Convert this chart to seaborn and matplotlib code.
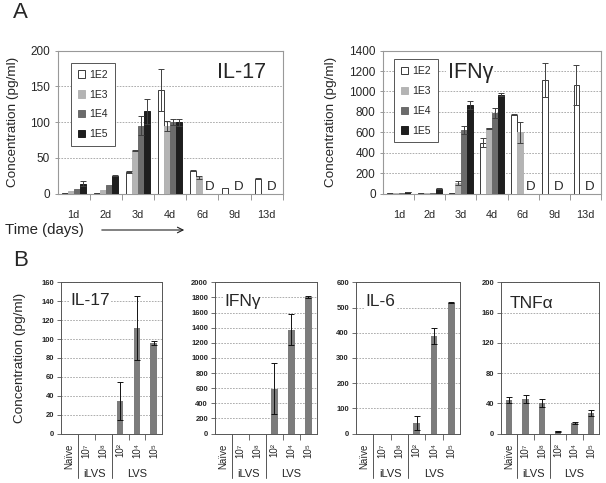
import numpy as np
import pandas as pd
import matplotlib.pyplot as plt
import matplotlib.transforms as mtransforms
from matplotlib.patches import Patch
import seaborn as sns

nan = np.nan

# ---- panel A: time course ----
DAYS = ["1d", "2d", "3d", "4d", "6d", "9d", "13d"]
DOSES = ["1E2", "1E3", "1E4", "1E5"]
DOSE_COLORS = ["white", "#b4b4b4", "#6b6b6b", "#1e1e1e"]

IL17_1E2 = [1, 1, 30, 145, 32, 8, 21]
IL17_1E3 = [4, 5, 60, 95, 23, nan, nan]
IL17_1E4 = [7, 12, 95, 100, nan, nan, nan]
IL17_1E5 = [14, 25, 115, 100, nan, nan, nan]
IL17_1E2_ERR = [0, 0, 1, 29, 1, 0, 1]
IL17_1E3_ERR = [0, 0, 1, 7, 2, nan, nan]
IL17_1E4_ERR = [0, 0, 13, 4, nan, nan, nan]
IL17_1E5_ERR = [3, 1, 17, 5, nan, nan, nan]

IFNG_1E2 = [3, 3, 5, 500, 770, 1110, 1065]
IFNG_1E3 = [4, 5, 100, 640, 600, nan, nan]
IFNG_1E4 = [6, 8, 620, 790, nan, nan, nan]
IFNG_1E5 = [15, 45, 870, 970, nan, nan, nan]
IFNG_1E2_ERR = [0, 0, 0, 42, 5, 165, 195]
IFNG_1E3_ERR = [0, 0, 20, 5, 100, nan, nan]
IFNG_1E4_ERR = [0, 0, 40, 45, nan, nan, nan]
IFNG_1E5_ERR = [3, 5, 40, 15, nan, nan, nan]

# ---- panel B: dose groups ----
GROUPS = ["Naïve", "10⁷", "10⁸", "10²", "10⁴", "10⁵"]
IL17_B = [0, 0, 0, 34, 112, 96]
IL17_B_ERR = [0, 0, 0, 20, 34, 2]
IFNG_B = [0, 0, 0, 590, 1370, 1805]
IFNG_B_ERR = [0, 0, 0, 337, 205, 10]
IL6_B = [0, 0, 0, 42, 388, 518]
IL6_B_ERR = [0, 0, 0, 28, 31, 2]
TNFA_B = [44, 46, 40, 3, 14, 27]
TNFA_B_ERR = [4, 5, 5, 0.5, 1, 4]

sns.set_style("ticks")
plt.rcParams['font.family'] = ['Liberation Sans', 'DejaVu Sans']

W, H = 606, 483
fig = plt.figure(figsize=(W / 100, H / 100), dpi=100)


def px_axes(x0, y0, x1, y1):
    return fig.add_axes([x0 / W, 1 - y1 / H, (x1 - x0) / W, (y1 - y0) / H])


def time_panel(ax, series, errs, ymax, ystep, title, title_x, leg_xy, lpad):
    rows = []
    for dose, vals, ee in zip(DOSES, series, errs):
        for d, v, e in zip(DAYS, vals, ee):
            rows.append({"day": d, "dose": dose, "val": v, "err": e})
    df = pd.DataFrame(rows)
    width = 0.75
    sns.barplot(df.dropna(subset=["val"]), x="day", y="val", hue="dose",
                order=DAYS, hue_order=DOSES, palette=DOSE_COLORS,
                width=width, errorbar=None, legend=False, ax=ax, zorder=3,
                linewidth=0.7)
    bar_sets = list(ax.containers)
    for k, cont in enumerate(bar_sets):
        sub = df[(df.dose == DOSES[k]) & df.val.notna()]
        for bar, (_, r) in zip(cont, sub.iterrows()):
            bar.set_edgecolor("#3a3a3a" if k == 0 else DOSE_COLORS[k])
            if r.err > 0:
                cx = bar.get_x() + bar.get_width() / 2
                ax.errorbar(cx, r.val, yerr=r.err, color="#404040", lw=0.7,
                            capsize=2, capthick=0.7, zorder=4)
    # "D" where later doses are missing
    for i, d in enumerate(DAYS):
        miss = [k for k in range(4) if np.isnan(df[(df.day == d) & (df.dose == DOSES[k])].val.iloc[0])]
        if miss:
            xs = [i - width / 2 + width / 4 * (k + 0.5) for k in miss]
            ax.text(np.mean(xs) + 0.05, 0, "D", ha="center", va="bottom",
                    fontsize=9.5, zorder=5)
    ax.set_ylim(0, ymax)
    ax.set_xlim(-0.5, len(DAYS) - 0.5)
    ax.set_yticks(np.arange(0, ymax + 1, ystep))
    ax.grid(axis="y", color="#a0a0a0", lw=0.6, ls=(0, (2, 1.5)), zorder=0)
    ax.set_axisbelow(True)
    ax.set_xlabel("")
    ax.set_ylabel("Concentration (pg/ml)", fontsize=9.7, labelpad=lpad)
    ax.tick_params(axis="y", labelsize=8.5, length=2.5, width=0.6,
                   color="#888888", pad=3)
    ax.set_xticks(np.arange(len(DAYS)) + 0.5, minor=True)
    ax.tick_params(axis="x", which="major", length=0, labelsize=7.8, pad=12)
    ax.tick_params(axis="x", which="minor", length=4, width=0.6,
                   color="#888888", direction="out")
    for s in ax.spines.values():
        s.set_color("#999999")
        s.set_linewidth(0.8)
    ax.text(title_x, 0.85, title, transform=ax.transAxes, ha="center",
            va="center", fontsize=15.5, zorder=6,
            bbox=dict(facecolor="white", edgecolor="none", pad=1))
    handles = [Patch(facecolor=c, edgecolor="#3a3a3a" if i == 0 else c, lw=0.7)
               for i, c in enumerate(DOSE_COLORS)]
    leg = ax.legend(handles, DOSES, loc="upper left", bbox_to_anchor=leg_xy,
                    fontsize=7.5, handlelength=0.7, handleheight=0.7,
                    handletextpad=0.4, labelspacing=0.95, borderpad=0.65,
                    fancybox=False, framealpha=1, edgecolor="#555555",
                    borderaxespad=0)
    leg.get_frame().set_linewidth(0.7)
    leg.set_zorder(6)


ax1 = px_axes(57.7, 50.7, 282.7, 193.5)
time_panel(ax1, [IL17_1E2, IL17_1E3, IL17_1E4, IL17_1E5],
           [IL17_1E2_ERR, IL17_1E3_ERR, IL17_1E4_ERR, IL17_1E5_ERR],
           200, 50, "IL-17", 0.815, (0.06, 0.915), 8)
ax2 = px_axes(383.3, 50.7, 600.7, 193.5)
time_panel(ax2, [IFNG_1E2, IFNG_1E3, IFNG_1E4, IFNG_1E5],
           [IFNG_1E2_ERR, IFNG_1E3_ERR, IFNG_1E4_ERR, IFNG_1E5_ERR],
           1400, 200, "IFNγ", 0.40, (0.05, 0.94), 8.5)


def dose_panel(ax, vals, errs, ymax, ystep, title, title_y, ylabel):
    df = pd.DataFrame({"group": GROUPS, "val": vals, "err": errs})
    sns.barplot(df, x="group", y="val", order=GROUPS, color="#7c7c7c",
                saturation=1, width=0.4, errorbar=None, ax=ax, zorder=3,
                linewidth=0)
    bars = list(ax.containers[0])
    for bar, (_, r) in zip(bars, df.iterrows()):
        if r.err > 0:
            cx = bar.get_x() + bar.get_width() / 2
            ax.errorbar(cx, r.val, yerr=r.err, color="#111111", lw=0.7,
                        capsize=2, capthick=0.7, zorder=4)
    ax.set_ylim(0, ymax)
    ax.set_xlim(-0.5, len(GROUPS) - 0.5)
    ax.set_yticks(np.arange(0, ymax + 1, ystep))
    ax.grid(axis="y", color="#a0a0a0", lw=0.6, ls=(0, (2, 1.5)), zorder=0)
    ax.set_axisbelow(True)
    ax.set_xlabel("")
    ax.set_ylabel(ylabel, fontsize=9.7, labelpad=11)
    ax.tick_params(axis="y", labelsize=5.5, length=3, width=0.6, pad=2,
                   color="#555555")
    for lab in ax.get_yticklabels():
        lab.set_fontweight("bold")
    ax.set_xticks(range(len(GROUPS)))
    ax.set_xticklabels(GROUPS, rotation=90, fontsize=7)
    ax.set_xticks([1.5, 3.5, 4.5], minor=True)
    ax.tick_params(axis="x", which="major", length=0, pad=7)
    ax.tick_params(axis="x", which="minor", length=4, width=0.6,
                   color="#555555", direction="out")
    for s in ax.spines.values():
        s.set_color("#555555")
        s.set_linewidth(0.7)
    trans = mtransforms.blended_transform_factory(ax.transData, ax.transAxes)
    for xb in [0.5, 2.5]:
        ax.plot([xb, xb], [0, -0.295], transform=trans, color="#555555",
                lw=0.7, clip_on=False)
    ax.text(1.5, -0.268, "iLVS", transform=trans, ha="center", va="center",
            fontsize=8)
    ax.text(4, -0.268, "LVS", transform=trans, ha="center", va="center",
            fontsize=8)
    ax.text(0.09, title_y, title, transform=ax.transAxes, ha="left",
            va="center", fontsize=12.5, zorder=6,
            bbox=dict(facecolor="white", edgecolor="none", pad=1))


b1 = px_axes(61, 282.3, 162.3, 433.5)
dose_panel(b1, IL17_B, IL17_B_ERR, 160, 20, "IL-17", 0.88,
           "Concentration (pg/ml)")
b2 = px_axes(215, 282.3, 316.7, 433.5)
dose_panel(b2, IFNG_B, IFNG_B_ERR, 2000, 200, "IFNγ", 0.87, "")
b3 = px_axes(356, 282.3, 460, 433.5)
dose_panel(b3, IL6_B, IL6_B_ERR, 600, 100, "IL-6", 0.87, "")
b4 = px_axes(501, 282.3, 599, 433.5)
dose_panel(b4, TNFA_B, TNFA_B_ERR, 200, 40, "TNFα", 0.86, "")

# panel letters and time arrow
fig.text(13 / W, 1 - 13 / H, "A", fontsize=16, va="center", ha="left")
fig.text(13 / W, 1 - 261 / H, "B", fontsize=16, va="center", ha="left")
fig.text(5 / W, 1 - 230 / H, "Time (days)", fontsize=10.8, va="center",
         ha="left")
ax1.annotate("", xy=(187 / W, 1 - 230 / H), xytext=(99 / W, 1 - 230 / H),
             xycoords="figure fraction", textcoords="figure fraction",
             arrowprops=dict(arrowstyle="->", lw=0.8, color="#222222"))

fig.savefig("out.png", dpi=100)
